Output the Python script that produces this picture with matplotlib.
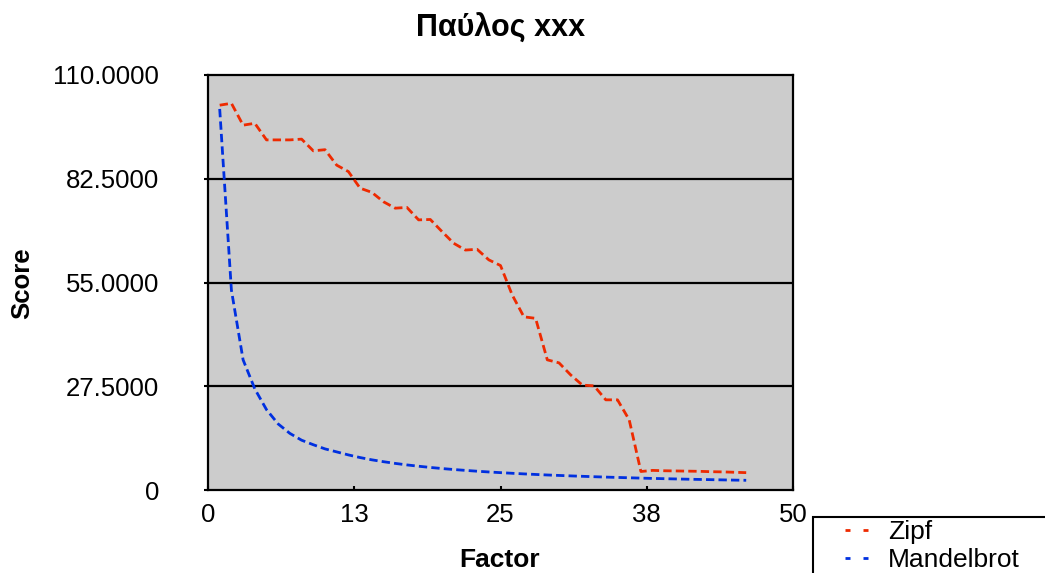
import matplotlib
matplotlib.use("Agg")
import matplotlib.pyplot as plt
from matplotlib.lines import Line2D
from matplotlib.patches import Rectangle

plt.rcParams['font.family'] = ['Liberation Sans', 'DejaVu Sans']
plt.rcParams['lines.scale_dashes'] = False

# ---- data ----
factor = list(range(1, 47))
zipf = [102.0, 102.5, 96.7, 97.2, 92.8, 92.8, 92.8, 93.0, 89.9, 90.2,
        86.1, 84.4, 80.0, 78.9, 76.4, 74.7, 74.9, 71.6, 71.7, 68.5,
        65.4, 63.6, 63.8, 61.0, 59.5, 51.7, 45.9, 45.5, 34.5, 33.7,
        30.5, 27.8, 27.6, 23.9, 23.9, 18.6, 4.9, 5.2, 5.1, 5.05,
        5.0, 4.95, 4.85, 4.8, 4.7, 4.6]
mandelbrot = [101.0, 53.0, 34.5, 26.8, 21.3, 17.5, 15.0, 13.2, 12.0, 10.9,
              10.1, 9.3, 8.6, 8.0, 7.5, 7.05, 6.65, 6.3, 5.98, 5.69,
              5.43, 5.2, 4.98, 4.78, 4.6, 4.43, 4.27, 4.12, 3.98, 3.86,
              3.74, 3.63, 3.52, 3.42, 3.33, 3.24, 3.15, 3.07, 3.0, 2.93,
              2.86, 2.8, 2.74, 2.68, 2.62, 2.57]
series_names = ['Zipf', 'Mandelbrot']
series_colors = ['#ee2a00', '#0030e0']
x_ticks = [0, 12.5, 25, 37.5, 50]
x_tick_labels = ['0', '13', '25', '38', '50']
y_ticks = [0, 27.5, 55, 82.5, 110]
y_tick_labels = ['0', '27.5000', '55.0000', '82.5000', '110.0000']
title = 'Παύλος xxx'
x_label = 'Factor'
y_label = 'Score'

# ---- figure ----
W, H = 1045, 573
PX = 72 / 100  # points per pixel
fig = plt.figure(figsize=(W / 100, H / 100), dpi=100)
ax = fig.add_axes([208 / W, 1 - 490 / H, (793 - 208) / W, (490 - 75) / H])
ax.set_facecolor('#cccccc')

ax.plot(factor, zipf, color=series_colors[0], lw=2.0, dashes=(6, 3))
ax.plot(factor, mandelbrot, color=series_colors[1], lw=2.0, dashes=(6, 3))

ax.set_xlim(0, 50)
ax.set_ylim(0, 110)
ax.set_xticks(x_ticks)
ax.set_xticklabels(x_tick_labels)
ax.set_yticks(y_ticks)
ax.set_yticklabels(y_tick_labels)
for y in y_ticks[1:-1]:
    ax.axhline(y, color='black', lw=1.6, zorder=1)

for sp in ax.spines.values():
    sp.set_linewidth(1.6)
    sp.set_color('black')

ax.tick_params(axis='x', direction='in', length=4 * PX, width=1.5, labelsize=18.5, pad=13 * PX)
ax.tick_params(axis='y', direction='out', length=4 * PX, width=1.5, labelsize=18.5, pad=45 * PX)

ax.set_title(title, fontsize=22, fontweight='bold', pad=38 * PX)
ax.set_xlabel(x_label, fontsize=19, fontweight='bold', va='baseline')
ax.xaxis.set_label_coords(500 / W, 1 - 567 / H, transform=fig.transFigure)
ax.set_ylabel(y_label, fontsize=18.5, fontweight='bold', va='center')
ax.yaxis.set_label_coords(22 / W, 1 - 283 / H, transform=fig.transFigure)

# legend (frameless) + its box
handles = [Line2D([0], [0], color=c, lw=2.0, dashes=(5 * PX, 13 * PX)) for c in series_colors]
leg = fig.legend(handles, series_names, loc='upper left',
                 bbox_to_anchor=(845 / W, 1 - 520 / H), bbox_transform=fig.transFigure,
                 frameon=False, fontsize=19, handlelength=23 / 26.4,
                 handletextpad=20 / 26.4, borderpad=0, labelspacing=0.15,
                 borderaxespad=0)
fig.patches.append(Rectangle((813 / W, -0.05), 0.3, (1 - 517 / H) + 0.05,
                             transform=fig.transFigure, fill=False,
                             edgecolor='black', lw=1.5))

fig.savefig('out.png', dpi=100)
